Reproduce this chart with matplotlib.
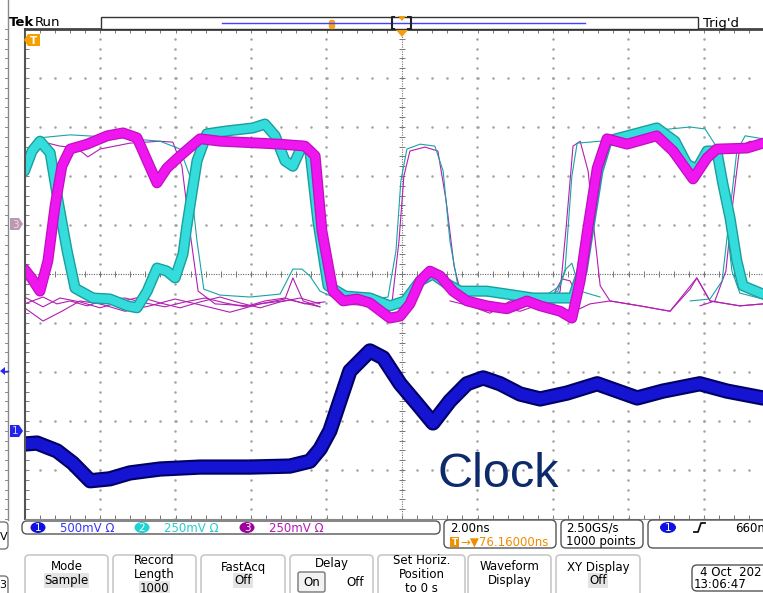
import numpy as np
import matplotlib.pyplot as plt
from matplotlib.patches import FancyBboxPatch, Rectangle, Polygon, Ellipse

# Scope capture, 2 ns/div. Time in ns (0 = trigger), amplitude in screen divisions.

# Ch2 (cyan) persistent trace
ch2_t = [-10.0, -9.80, -9.59, -9.32, -9.11, -8.87, -8.66, -8.19, -7.74, -7.28, -7.02, -6.75,
         -6.49, -6.23, -6.01, -5.80, -5.70, -5.43, -5.17, -4.64, -3.95, -3.63, -3.36, -3.10,
         -2.89, -2.65, -2.44, -2.23, -1.96, -1.51, -0.85, -0.32, 0.08, 0.48, 0.82, 1.19, 1.54,
         2.25, 2.78, 3.47, 4.19, 4.53, 4.77, 4.98, 5.19, 5.43, 6.75, 7.23, 7.55, 7.81, 8.08,
         8.34, 8.50, 8.69, 8.87, 9.03, 9.56, 10.0]
ch2_v = [2.10, 2.51, 2.71, 2.47, 1.49, 0.47, -0.29, -0.49, -0.51, -0.65, -0.69, -0.35,
         0.12, 0.06, -0.08, 0.41, 0.98, 2.31, 2.86, 2.92, 2.98, 3.06, 2.82, 2.31,
         2.20, 2.61, 2.51, 1.08, -0.24, -0.45, -0.49, -0.65, -0.55, -0.14, 0.0, -0.20, -0.35,
         -0.35, -0.41, -0.49, -0.49, -0.49, 0.06, 1.08, 2.10, 2.71, 2.98, 2.71, 2.24, 2.14, 2.51,
         2.51, 1.84, 1.14, 0.27, -0.24, -0.41, -0.41]

# Ch3 (magenta) persistent trace
ch3_t = [-10.0, -9.80, -9.59, -9.38, -9.19, -9.01, -8.79, -8.34, -7.81, -7.39, -7.02, -6.75,
         -6.49, -6.23, -5.88, -5.35, -4.82, -3.23, -2.57, -2.30, -2.12, -1.83, -1.56, -1.19,
         -0.85, -0.32, -0.05, 0.21, 0.48, 0.74, 1.01, 1.35, 1.72, 2.25, 2.78, 3.31, 3.66,
         4.19, 4.50, 4.72, 4.90, 5.17, 5.43, 5.96, 6.75, 7.18, 7.71, 8.08, 8.34, 9.14, 9.56, 10.0]
ch3_v = [0.10, -0.10, -0.35, 0.27, 1.39, 2.20, 2.55, 2.65, 2.82, 2.88, 2.78, 2.31,
         1.86, 2.16, 2.41, 2.76, 2.71, 2.65, 2.61, 2.41, 0.88, -0.35, -0.55, -0.51,
         -0.59, -0.90, -0.86, -0.61, -0.14, 0.06, -0.04, -0.35, -0.55, -0.65, -0.71, -0.55, -0.65,
         -0.76, -0.90, -0.14, 0.82, 2.16, 2.76, 2.65, 2.82, 2.51, 1.94, 2.37, 2.55, 2.57, 2.67, 2.72]

# Ch1 (blue) clock
ch1_t = [-10.0, -9.67, -9.14, -8.72, -8.26, -7.74, -7.21, -6.41, -5.35, -4.03, -2.97, -2.44,
         -2.17, -1.91, -1.38, -0.85, -0.50, -0.05, 0.40, 0.82, 1.27, 1.72, 2.15, 2.60, 3.13,
         3.66, 4.37, 5.17, 6.23, 6.91, 7.89, 8.61, 9.56, 10.0]
ch1_v = [-3.47, -3.45, -3.61, -3.86, -4.22, -4.18, -4.06, -3.98, -3.94, -3.94, -3.92, -3.82,
         -3.57, -3.20, -1.98, -1.57, -1.71, -2.24, -2.65, -3.04, -2.59, -2.24, -2.12, -2.24, -2.45,
         -2.55, -2.43, -2.24, -2.53, -2.39, -2.24, -2.39, -2.53, -2.53]

# single acquisitions left on screen (thin lines)
ch3_thin = [
    ([-10.0, -9.51, -9.14, -8.79, -8.34, -7.87, -7.34, -6.81, -6.28, -5.75, -5.22, -4.69, -4.16, -3.63, -3.10, -2.57, -2.04],
     [-0.61, -0.47, -0.61, -0.55, -0.65, -0.53, -0.49, -0.59, -0.67, -0.57, -0.49, -0.59, -0.67, -0.55, -0.49, -0.61, -0.57]),
    ([-10.0, -9.51, -9.06, -8.53, -8.00, -7.47, -6.94, -6.41, -5.88, -5.35, -4.82, -4.29, -3.76, -3.23, -2.70, -2.17],
     [-0.47, -0.67, -0.49, -0.57, -0.69, -0.57, -0.47, -0.59, -0.69, -0.57, -0.47, -0.59, -0.69, -0.57, -0.49, -0.61]),
    ([-10.0, -9.51, -9.01, -8.53, -8.00, -7.34, -6.68, -6.01, -5.35, -4.56, -3.76, -2.97, -2.17],
     [-0.69, -0.96, -0.76, -0.55, -0.61, -0.76, -0.65, -0.51, -0.63, -0.78, -0.61, -0.53, -0.67]),
    ([1.27, 1.80, 2.33, 2.86, 3.39, 3.92, 4.45, 4.98, 5.51, 6.30, 7.10, 7.63, 7.81, 8.16, 8.95, 9.56],
     [-0.55, -0.65, -0.80, -0.55, -0.47, -0.63, -0.80, -0.61, -0.55, -0.65, -0.76, -0.31, -0.08, -0.55, -0.65, -0.61]),
    ([-10.0, -9.59, -9.06, -8.61, -8.32, -8.00, -7.21, -6.41, -6.07, -5.83, -5.62, -5.40, -4.95, -4.03, -3.10, -2.89, -2.62, -2.17],
     [2.00, 2.71, 2.61, 2.57, 2.39, 2.55, 2.67, 2.71, 2.69, 2.20, 0.88, -0.35, -0.61, -0.65, -0.51, -0.08, -0.55, -0.67]),
    ([-1.64, -0.72, -0.26, -0.08, 0.05, 0.21, 0.61, 0.95, 1.17, 1.38, 1.59, 2.33, 3.13, 3.92, 4.24, 4.45, 4.72],
     [-0.61, -0.65, -0.55, 0.67, 2.00, 2.51, 2.59, 2.51, 1.49, 0.16, -0.49, -0.65, -0.76, -0.55, -0.10, -0.14, -0.55]),
    ([3.92, 4.19, 4.34, 4.53, 4.72, 4.93, 5.09, 5.25, 5.51, 6.30, 7.10, 7.81, 8.16, 8.95, 9.56],
     [-0.65, -0.35, 0.88, 2.61, 2.71, 2.10, 0.88, -0.24, -0.55, -0.65, -0.76, -0.08, -0.55, -0.65, -0.61]),
    ([7.89, 8.29, 8.58, 8.77, 8.95, 9.22, 9.56],
     [-0.65, -0.55, 0.06, 1.49, 2.61, 2.71, 2.67]),
]
ch2_thin = [
    ([-10.0, -9.59, -8.79, -7.47, -6.41, -5.88, -5.62, -5.43, -5.25, -4.82, -4.03, -3.23, -2.89, -2.65, -2.44, -2.17, -1.77, -0.85],
     [2.20, 2.78, 2.84, 2.78, 2.71, 2.55, 2.00, 0.67, -0.31, -0.43, -0.47, -0.41, 0.10, 0.10, -0.04, -0.35, -0.49, -0.51]),
    ([-1.64, -0.85, -0.37, -0.16, -0.03, 0.13, 0.48, 0.87, 1.09, 1.27, 1.48, 1.80, 2.60, 3.66, 4.19, 4.34, 4.50, 4.72, 5.25],
     [-0.49, -0.53, -0.47, 0.47, 1.90, 2.55, 2.65, 2.61, 2.10, 0.67, -0.24, -0.41, -0.47, -0.51, -0.24, 0.10, 0.22, -0.35, -0.47]),
    ([3.66, 4.13, 4.32, 4.50, 4.64, 5.25, 6.57, 7.63, 8.03, 8.32, 8.53, 8.74, 8.95, 9.56],
     [-0.51, -0.35, 0.10, 2.00, 2.67, 2.71, 2.92, 3.00, 2.96, 2.61, 1.49, 0.06, -0.39, -0.51]),
    ([7.63, 8.16, 8.48, 8.69, 8.87, 9.09, 9.56],
     [-0.55, -0.51, -0.14, 1.29, 2.51, 2.82, 2.76]),
]

W, H = 763, 593
fig = plt.figure(figsize=(W / 100, H / 100), dpi=100)
fig.patch.set_facecolor('white')

# graticule: 10 x 10 divisions, right part falls off the capture
ax = fig.add_axes([24.5 / W, (H - 519) / H, 755 / W, 490 / H])
ax.set_xlim(-10, 10)
ax.set_ylim(-5, 5)

gx = np.arange(-10, 10.001, 0.4)
gy = np.arange(-5, 5.001, 0.2)
for xv in range(-8, 10, 2):
    if xv != 0:
        ax.plot(np.full_like(gy, xv), gy, ls='none', marker='.', ms=1.6, color='#a0a0a0')
for yv in range(-4, 5):
    if yv != 0:
        ax.plot(gx, np.full_like(gx, yv), ls='none', marker='.', ms=1.6, color='#a0a0a0')
ax.axhline(0, color='#666666', lw=0.8, ls=(0, (1, 1.2)))
ax.axvline(0, color='#777777', lw=0.8, ls=(0, (1, 1.2)))
ax.plot(gx, np.zeros_like(gx), ls='none', marker='|', ms=4, mew=0.7, color='#777777')
ax.plot(np.zeros_like(gy), gy, ls='none', marker='_', ms=4, mew=0.7, color='#777777')

ax.set_xticks(gx)
ax.set_yticks(gy)
ax.tick_params(direction='in', length=3, width=0.7, color='#777777', top=True, right=False,
               labelbottom=False, labelleft=False)
ax.spines['left'].set_color('#555555')
ax.spines['left'].set_linewidth(1.5)
ax.spines['top'].set_color('#444444')
ax.spines['top'].set_linewidth(2)
ax.spines['bottom'].set_color('#888888')
ax.spines['right'].set_visible(False)

line_kw = dict(solid_joinstyle='round', solid_capstyle='round')
for t, v in ch3_thin:
    ax.plot(t, v, color='#b21eb2', lw=0.8, **line_kw)
for t, v in ch2_thin:
    ax.plot(t, v, color='#1aa3a3', lw=0.8, **line_kw)

ax.plot(ch2_t, ch2_v, color='#1a9e9e', lw=8, **line_kw)
ax.plot(ch2_t, ch2_v, color='#35dcdc', lw=6, **line_kw)
ax.plot(ch3_t, ch3_v, color='#c010c0', lw=7.8, **line_kw)
ax.plot(ch3_t, ch3_v, color='#f016f0', lw=6, **line_kw)
ax.plot(ch1_t, ch1_v, color='#000066', lw=11, **line_kw)
ax.plot(ch1_t, ch1_v, color='#1414d2', lw=8, **line_kw)

ax.text(0.93, -4.34, 'Clock', fontsize=35, family='Liberation Sans', color='#0d2a6b',
        va='baseline', ha='left')

# screen chrome in pixel coordinates
ov = fig.add_axes([0, 0, 1, 1], zorder=5)
ov.set_xlim(0, W)
ov.set_ylim(H, 0)
ov.axis('off')
ov.patch.set_alpha(0)

ov.text(9, 23, 'Tek', fontsize=9.5, fontweight='bold', va='center')
ov.text(35, 23, 'Run', fontsize=9.5, va='center')
ov.text(703, 23, "Trig'd", fontsize=9.5, va='center')
ov.add_patch(Rectangle((101, 17), 597, 12, fc='white', ec='#333333', lw=1))
ov.plot([222, 585], [22.5, 22.5], color='#4040ff', lw=1)
ov.add_patch(FancyBboxPatch((330, 21), 4, 7, boxstyle='round,pad=0.5,rounding_size=2',
                            fc='#f7a21b', ec='#f7a21b'))
ov.plot([394, 391.5, 391.5, 394], [17, 17, 29, 29], color='#222222', lw=1.5)
ov.plot([408, 410.5, 410.5, 408], [17, 17, 29, 29], color='#222222', lw=1.5)
ov.add_patch(Polygon([(398, 16), (406, 16), (402, 21)], fc='#f39c12', ec='none'))
ov.add_patch(Polygon([(396, 30), (408, 30), (402, 37)], fc='#f39c12', ec='none'))
ov.add_patch(Polygon([(24, 40), (28, 34), (40, 34), (40, 46), (28, 46)], fc='#f5a000', ec='none'))
ov.text(33, 40.5, 'T', fontsize=7.5, color='white', fontweight='bold', ha='center', va='center')

# left strip with channel markers
ov.plot([8, 8], [0, 520], color='#8a8a8a', lw=1)
for yy in np.arange(29, 520, 9.8):
    ov.plot([5, 8], [yy, yy], color='#8a8a8a', lw=0.7)
ov.add_patch(Polygon([(10, 218), (19, 218), (23, 224), (19, 230), (10, 230)], fc='#b99ab5', ec='none'))
ov.text(15, 224.5, '3', fontsize=7.5, color='#e8e0e8', ha='center', va='center')
ov.add_patch(Polygon([(10, 425), (19, 425), (23, 431), (19, 437), (10, 437)], fc='#2323ee', ec='none'))
ov.text(15, 431.5, '1', fontsize=7.5, color='#d0d0ff', ha='center', va='center')
ov.add_patch(Polygon([(0, 371), (5, 367), (5, 375)], fc='#2a2aee', ec='none'))
ov.plot([4, 8], [371, 371], color='#2a2aee', lw=1)

# channel readouts
ov.add_patch(FancyBboxPatch((22, 521), 418, 13, boxstyle='round,pad=0,rounding_size=5',
                            fc='white', ec='#555555', lw=1))
for cx, lab, txt, cfill, ctxt in [(38, '1', '500mV Ω', '#1010e0', '#3535ff'),
                                  (142, '2', '250mV Ω', '#22d2d2', '#25cccc'),
                                  (247, '3', '250mV Ω', '#9c009c', '#b818b8')]:
    ov.add_patch(Ellipse((cx, 527.5), 15, 11, fc=cfill, ec='none'))
    ov.text(cx, 528, lab, fontsize=7.5, color='white', ha='center', va='center')
    ov.text(cx + 22, 528, txt, fontsize=8.5, color=ctxt, va='center')

ov.add_patch(FancyBboxPatch((444, 520), 112, 28, boxstyle='round,pad=0,rounding_size=5',
                            fc='white', ec='#555555', lw=1))
ov.text(450, 528, '2.00ns', fontsize=8.5, va='center')
ov.add_patch(Rectangle((450, 537), 9, 10, fc='#f29100', ec='none'))
ov.text(454.5, 542.5, 'T', fontsize=6.5, color='white', ha='center', va='center', fontweight='bold')
ov.text(460, 542, '→▼76.16000ns', fontsize=8.5, color='#f08c00', va='center')

ov.add_patch(FancyBboxPatch((561, 520), 82, 28, boxstyle='round,pad=0,rounding_size=5',
                            fc='white', ec='#555555', lw=1))
ov.text(566, 528, '2.50GS/s', fontsize=8.5, va='center')
ov.text(566, 542, '1000 points', fontsize=8.5, va='center')

ov.add_patch(FancyBboxPatch((648, 520), 140, 28, boxstyle='round,pad=0,rounding_size=5',
                            fc='white', ec='#555555', lw=1))
ov.add_patch(Ellipse((668, 527.5), 16, 11, fc='#1010e0', ec='none'))
ov.text(668, 528, '1', fontsize=7.5, color='white', ha='center', va='center')
ov.plot([694, 698, 701, 705], [532, 532, 523, 523], color='#111111', lw=1.3)
ov.text(735, 528, '660m', fontsize=8.5, va='center')

# soft-key menu
buttons = [(25, 108, ['Mode'], 'Sample'),
           (113, 196, ['Record', 'Length'], '1000'),
           (201, 285, ['FastAcq'], 'Off'),
           (290, 373, ['Delay'], None),
           (378, 465, ['Set Horiz.', 'Position', 'to 0 s'], None),
           (468, 551, ['Waveform', 'Display'], None),
           (556, 640, ['XY Display'], 'Off')]
for x0, x1, lines, val in buttons:
    ov.add_patch(FancyBboxPatch((x0, 555), x1 - x0, 50, boxstyle='round,pad=0,rounding_size=4',
                                fc='white', ec='#c8c8c8', lw=1.2))
    rows = lines + ([val] if val else [])
    y0 = 567 if len(rows) == 2 else (564 if len(rows) == 1 else 561)
    for i, r in enumerate(lines):
        ov.text((x0 + x1) / 2, y0 + 13.5 * i, r, fontsize=8.5, ha='center', va='center')
    if val:
        ov.text((x0 + x1) / 2, y0 + 13.5 * len(lines), val, fontsize=8.5, ha='center', va='center',
                bbox=dict(fc='#e4e4e4', ec='none', pad=0.6))
ov.add_patch(FancyBboxPatch((298, 572), 27, 20, boxstyle='round,pad=0,rounding_size=2',
                            fc='#f2f2f2', ec='#777777', lw=1))
ov.text(311.5, 582, 'On', fontsize=8.5, ha='center', va='center')
ov.text(355, 582, 'Off', fontsize=8.5, ha='center', va='center')

ov.add_patch(FancyBboxPatch((692, 565), 100, 26, boxstyle='round,pad=0,rounding_size=5',
                            fc='white', ec='#555555', lw=1))
ov.text(700, 572, '4 Oct  202', fontsize=8.5, va='center')
ov.text(694, 584, '13:06:47', fontsize=8.5, va='center')

# bits of the neighbouring panel on the far left
ov.add_patch(FancyBboxPatch((-20, 522), 28, 27, boxstyle='round,pad=0,rounding_size=4',
                            fc='white', ec='#777777', lw=1))
ov.text(0, 537, 'V', fontsize=8, va='center')
ov.add_patch(FancyBboxPatch((-20, 576), 28, 30, boxstyle='round,pad=0,rounding_size=4',
                            fc='white', ec='#777777', lw=1))
ov.text(-1, 585, '3', fontsize=8, va='center')

fig.savefig('out.png', dpi=100)
